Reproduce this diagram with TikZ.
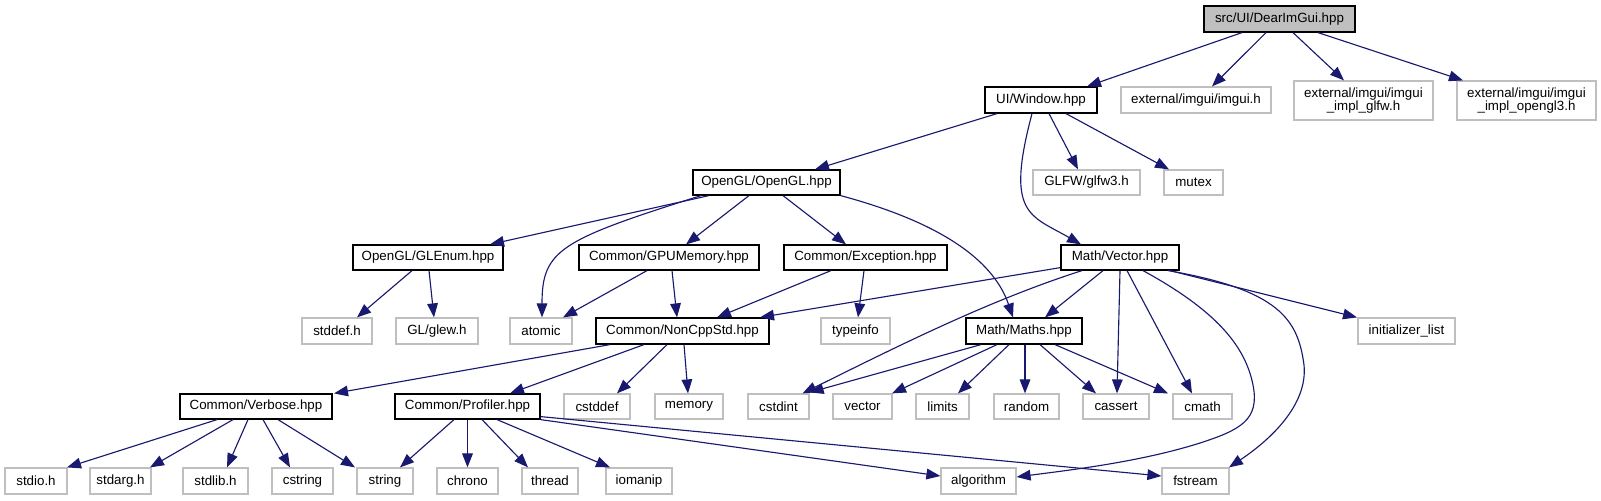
\documentclass[tikz,border=0pt]{standalone}
\usepackage{fontspec}
\setmainfont{Liberation Sans}
\usetikzlibrary{arrows.meta}
\definecolor{edgec}{HTML}{191970}
\definecolor{grayb}{HTML}{BFBFBF}
\begin{document}
\begin{tikzpicture}[x=0.75pt,y=-0.75pt,
  base/.style={rectangle, inner sep=0pt, font=\fontsize{10pt}{10pt}\selectfont, align=center, line width=0.9pt},
  doc/.style={base, draw=black, fill=white},
  ext/.style={base, draw=grayb, fill=white},
  rootbox/.style={base, draw=black, fill=grayb},
  sz/.style 2 args={minimum width=#1*0.75pt, minimum height=#2*0.75pt},
  e/.style={draw=edgec, line width=0.85pt, -{Triangle[length=10.5pt,width=8pt]}}]
\useasboundingbox (0,0) rectangle (1601,500);
% row 0
\node[rootbox, sz={151}{26}] (root) at (1279.5,19) {src/UI/DearImGui.hpp};
% row 1
\node[doc, sz={112}{26}] (win) at (1041,100) {UI/Window.hpp};
\node[ext, sz={150}{26}] (imgui) at (1196,100) {external/imgui/imgui.h};
\node[ext, sz={139}{39}] (glfwimpl) at (1363.5,100.5) {external/imgui/imgui\\\_impl\_glfw.h};
\node[ext, sz={139}{39}] (glimpl) at (1526.5,100.5) {external/imgui/imgui\\\_impl\_opengl3.h};
% row 2
\node[doc, sz={147}{25}] (ogl) at (766.5,182.5) {OpenGL/OpenGL.hpp};
\node[ext, sz={107}{25}] (glfw) at (1086.5,182.5) {GLFW/glfw3.h};
\node[ext, sz={59}{25}] (mutex) at (1193.5,182.5) {mutex};
% row 3
\node[doc, sz={150}{25}] (glenum) at (428,257.5) {OpenGL/GLEnum.hpp};
\node[doc, sz={180}{25}] (gpumem) at (669,257.5) {Common/GPUMemory.hpp};
\node[doc, sz={163}{25}] (exc) at (865.5,257.5) {Common/Exception.hpp};
\node[doc, sz={118}{25}] (vec) at (1120,257.5) {Math/Vector.hpp};
% row 4
\node[ext, sz={70}{26}] (stddef) at (337,331) {stddef.h};
\node[ext, sz={82}{26}] (glew) at (437,331) {GL/glew.h};
\node[ext, sz={62}{26}] (atomic) at (541,331) {atomic};
\node[doc, sz={173}{26}] (noncpp) at (682.5,331) {Common/NonCppStd.hpp};
\node[ext, sz={69}{26}] (typeinfo) at (855.5,331) {typeinfo};
\node[doc, sz={116}{26}] (maths) at (1024,331) {Math/Maths.hpp};
\node[ext, sz={97}{26}] (initlist) at (1406.5,331) {initializer\_list};
% row 5
\node[doc, sz={152}{25}] (verbose) at (256,406.5) {Common/Verbose.hpp};
\node[doc, sz={145}{25}] (profiler) at (467.5,406.5) {Common/Profiler.hpp};
\node[ext, sz={66}{25}] (cstddef) at (597,406.5) {cstddef};
\node[ext, sz={68}{25}] (memory) at (689,406.5) {memory};
\node[ext, sz={61}{25}] (cstdint) at (778.5,406.5) {cstdint};
\node[ext, sz={59}{25}] (vector) at (862.5,406.5) {vector};
\node[ext, sz={53}{25}] (limits) at (942.5,406.5) {limits};
\node[ext, sz={65}{25}] (random) at (1026.5,406.5) {random};
\node[ext, sz={66}{25}] (cassert) at (1116,406.5) {cassert};
\node[ext, sz={59}{25}] (cmath) at (1202.5,406.5) {cmath};
% row 6
\node[ext, sz={62}{26}] (stdio) at (36,481) {stdio.h};
\node[ext, sz={61}{26}] (stdarg) at (120.5,481) {stdarg.h};
\node[ext, sz={65}{26}] (stdlib) at (215.5,481) {stdlib.h};
\node[ext, sz={61}{26}] (cstring) at (302.5,481) {cstring};
\node[ext, sz={56}{26}] (string) at (385,481) {string};
\node[ext, sz={61}{26}] (chrono) at (467.5,481) {chrono};
\node[ext, sz={56}{26}] (thread) at (550,481) {thread};
\node[ext, sz={66}{26}] (iomanip) at (639,481) {iomanip};
\node[ext, sz={75}{26}] (algorithm) at (978.5,481) {algorithm};
\node[ext, sz={67}{26}] (fstream) at (1195.5,481) {fstream};
% edges from root
\draw[e] ([shift={(-37.5,0)}]root.south) -- ([shift={(46,0)}]win.north);
\draw[e] ([shift={(-13.5,0)}]root.south) -- ([shift={(16,0)}]imgui.north);
\draw[e] ([shift={(13.5,0)}]root.south) -- ([shift={(-19.5,0)}]glfwimpl.north);
\draw[e] ([shift={(38.5,0)}]root.south) -- ([shift={(-63.5,0)}]glimpl.north);
% from window
\draw[e] ([shift={(-44,0)}]win.south) -- ([shift={(48.5,0)}]ogl.north);
\draw[e] ([shift={(-9,0)}]win.south) .. controls (1005,215) and (1030,215) .. ([shift={(-39,0)}]vec.north);
\draw[e] ([shift={(8,0)}]win.south) -- ([shift={(-8.5,0)}]glfw.north);
\draw[e] ([shift={(25,0)}]win.south) -- ([shift={(-24.5,0)}]mutex.north);
% from OpenGL
\draw[e] ([shift={(-57.5,0)}]ogl.south) -- ([shift={(62,0)}]glenum.north);
\draw[e] ([shift={(-65.5,0)}]ogl.south) .. controls (560,240) and (542,250) .. ([shift={(1,0)}]atomic.north);
\draw[e] ([shift={(-17.5,0)}]ogl.south) -- ([shift={(17,0)}]gpumem.north);
\draw[e] ([shift={(16.5,0)}]ogl.south) -- ([shift={(-19.5,0)}]exc.north);
\draw[e] (ogl.south east) .. controls (950,225) and (995,265) .. ([shift={(-11,0)}]maths.north);
% row 3 sources
\draw[e] ([shift={(-16,0)}]glenum.south) -- ([shift={(20,0)}]stddef.north);
\draw[e] ([shift={(1,0)}]glenum.south) -- ([shift={(-3,0)}]glew.north);
\draw[e] ([shift={(-22,0)}]gpumem.south) -- ([shift={(22,0)}]atomic.north);
\draw[e] ([shift={(3,0)}]gpumem.south) -- ([shift={(-5.5,0)}]noncpp.north);
\draw[e] ([shift={(-34.5,0)}]exc.south) -- ([shift={(34.5,0)}]noncpp.north);
\draw[e] ([shift={(-1.5,0)}]exc.south) -- ([shift={(2.5,0)}]typeinfo.north);
% from vector
\draw[e] ([shift={(0,-3)}]vec.south west) -- ([shift={(77.5,0)}]noncpp.north);
\draw[e] ([shift={(-38,0)}]vec.south) .. controls (990,300) and (900,345) .. ([shift={(24,0)}]cstdint.north);
\draw[e] ([shift={(-17,0)}]vec.south) -- ([shift={(21,0)}]maths.north);
\draw[e] ([shift={(0,0)}]vec.south) -- ([shift={(1,0)}]cassert.north);
\draw[e] ([shift={(7,0)}]vec.south) -- ([shift={(-10.5,0)}]cmath.north);
\draw[e] ([shift={(23,0)}]vec.south) .. controls (1215,310) and (1245,345) .. (1253,385)
  .. controls (1260,420) and (1240,430) .. (1200,443)
  .. controls (1140,462) and (1070,470) .. ([shift={(0,-4)}]algorithm.east);
\draw[e] ([shift={(48,0)}]vec.south) .. controls (1280,290) and (1298,320) .. (1304,365)
  .. controls (1308,405) and (1270,440) .. ([shift={(33.5,0)}]fstream.north);
\draw[e] ([shift={(50,0)}]vec.south) -- ([shift={(-49.5,0)}]initlist.north);
% from NonCppStd
\draw[e] ([shift={(-72.5,0)}]noncpp.south) -- ([shift={(78,0)}]verbose.north);
\draw[e] ([shift={(-38.5,0)}]noncpp.south) -- ([shift={(42.5,0)}]profiler.north);
\draw[e] ([shift={(-15.5,0)}]noncpp.south) -- ([shift={(20,0)}]cstddef.north);
\draw[e] ([shift={(1.5,0)}]noncpp.south) -- ([shift={(-1,0)}]memory.north);
% from Maths
\draw[e] ([shift={(-43,0)}]maths.south) -- ([shift={(0,-1)}]cstdint.north east);
\draw[e] ([shift={(-27,0)}]maths.south) -- ([shift={(29.5,0)}]vector.north);
\draw[e] ([shift={(-15,0)}]maths.south) -- ([shift={(15.5,0)}]limits.north);
\draw[e] ([shift={(1,0)}]maths.south) -- ([shift={(-1.5,0)}]random.north);
\draw[e] ([shift={(16,0)}]maths.south) -- ([shift={(-20,0)}]cassert.north);
\draw[e] ([shift={(31,0)}]maths.south) -- ([shift={(-34.5,0)}]cmath.north);
% from Verbose
\draw[e] ([shift={(-39,0)}]verbose.south) -- ([shift={(31,0)}]stdio.north);
\draw[e] ([shift={(-23,0)}]verbose.south) -- ([shift={(29.5,0)}]stdarg.north);
\draw[e] ([shift={(-8,0)}]verbose.south) -- ([shift={(11.5,0)}]stdlib.north);
\draw[e] ([shift={(7,0)}]verbose.south) -- ([shift={(-12.5,0)}]cstring.north);
\draw[e] ([shift={(22,0)}]verbose.south) -- ([shift={(-30,0)}]string.north);
% from Profiler
\draw[e] ([shift={(-13.5,0)}]profiler.south) -- ([shift={(15,0)}]string.north);
\draw[e] (profiler.south) -- (chrono.north);
\draw[e] ([shift={(14.5,0)}]profiler.south) -- ([shift={(-22,0)}]thread.north);
\draw[e] ([shift={(29.5,0)}]profiler.south) -- ([shift={(-29,0)}]iomanip.north);
\draw[e] (profiler.south east) -- ([shift={(0,-5)}]algorithm.west);
\draw[e] ([shift={(0,-3)}]profiler.south east) -- ([shift={(0,-5)}]fstream.west);
\end{tikzpicture}
\end{document}
